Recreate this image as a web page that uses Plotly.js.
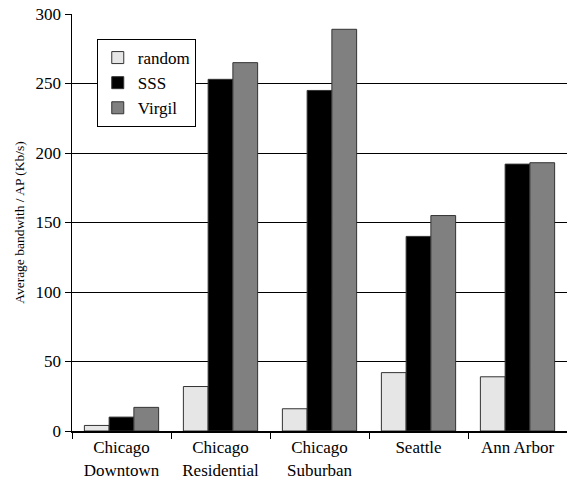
<!DOCTYPE html>
<html><head><meta charset="utf-8">
<script src="https://cdn.plot.ly/plotly-3.0.1.min.js"></script>
<style>html,body{margin:0;padding:0;background:#fff}</style>
</head><body><div id="chart" style="width:567px;height:479px"></div>
<script>
var categories = ["Chicago<br>Downtown", "Chicago<br>Residential", "Chicago<br>Suburban", "Seattle", "Ann Arbor"];
var randomVals = [4, 32, 16, 42, 39];
var sssVals = [10, 253, 245, 140, 192];
var virgilVals = [17, 265, 289, 155, 193];
var yTicks = [0, 50, 100, 150, 200, 250, 300];

function mk(name, vals, color) {
  return {type: "bar", name: name, x: categories, y: vals,
    marker: {color: color, line: {color: "#333", width: 1}}};
}
var data = [mk("random", randomVals, "#e6e6e6"), mk("SSS", sssVals, "#000000"), mk("Virgil", virgilVals, "#808080")];
var fam = "Liberation Serif";
var font = {family: fam, size: 17, color: "#000"};
var layout = {
  width: 567, height: 479,
  margin: {l: 72, r: 0, t: 14, b: 48},
  paper_bgcolor: "#fff", plot_bgcolor: "#fff",
  font: font,
  barmode: "group", bargap: 0.25, bargroupgap: 0,
  showlegend: true,
  legend: {x: 0.05, y: 0.94, xanchor: "left", yanchor: "top", bordercolor: "#000", borderwidth: 1,
    bgcolor: "#fff", font: {family: fam, size: 17, color: "#000"}, tracegroupgap: 4, itemwidth: 30},
  xaxis: {type: "category", range: [-0.5, 4.5], tickson: "boundaries", ticks: "outside", ticklen: 6,
    tickcolor: "#000", showline: true, linecolor: "#000", linewidth: 2, showgrid: false,
    tickfont: {family: fam, size: 17, color: "#000"}},
  yaxis: {range: [0, 300], tickvals: yTicks, ticktext: yTicks.map(String), ticks: "outside", ticklen: 6,
    tickcolor: "#000", showline: true, linecolor: "#000", linewidth: 1.5,
    showgrid: true, gridcolor: "#000", gridwidth: 1, zeroline: false,
    tickfont: {family: fam, size: 17, color: "#000"},
    title: {text: "Average bandwith / AP (Kb/s)", font: {family: fam, size: 13.5, color: "#000"}, standoff: 8}}
};
Plotly.newPlot("chart", data, layout, {staticPlot: true, displayModeBar: false});
</script></body></html>
